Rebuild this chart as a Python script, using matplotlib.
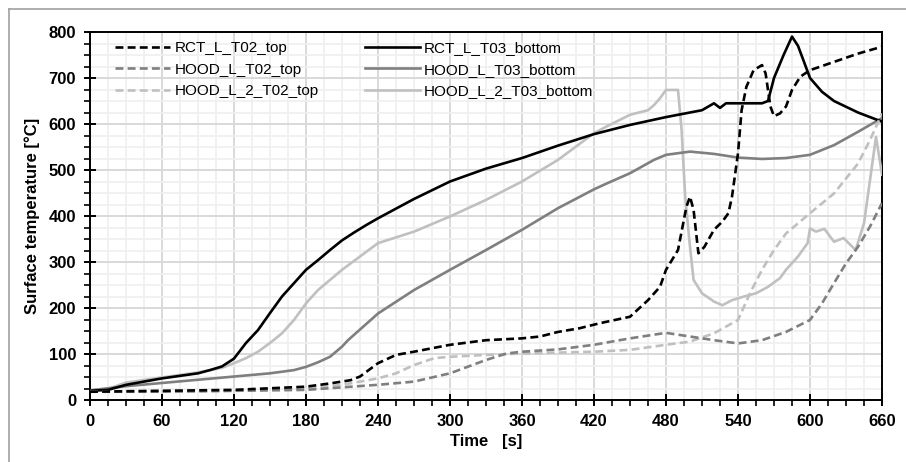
import numpy as np
import matplotlib
matplotlib.use('Agg')
import matplotlib.pyplot as plt
from matplotlib.ticker import MultipleLocator
from matplotlib.lines import Line2D

plt.rcParams['font.family'] = ['Liberation Sans', 'DejaVu Sans']

# RCT_L_T02_top (black dashed)
t_rct_top = [0, 60, 120, 180, 200, 217, 225, 240, 255, 270, 300, 330, 360, 375, 390, 408, 425, 450,
             465, 475, 480, 490, 497, 500, 503, 507, 512, 520, 527, 532, 535, 540, 543, 547, 553,
             560, 563, 567, 570, 575, 580, 585, 592, 600, 620, 640, 660]
v_rct_top = [18, 20, 22, 29, 36, 43, 51, 80, 98, 105, 120, 130, 134, 138, 148, 156, 167, 181,
             217, 246, 283, 326, 420, 442, 413, 319, 333, 370, 388, 406, 442, 536, 630, 681, 717,
             728, 710, 638, 617, 623, 638, 674, 703, 717, 735, 753, 768]

# RCT_L_T03_bottom (black solid)
t_rct_bot = [0, 15, 30, 60, 90, 100, 110, 120, 130, 140, 150, 160, 170, 180, 190, 200, 210, 220,
             230, 240, 270, 300, 330, 360, 390, 420, 450, 480, 510, 520, 525, 530, 535, 545, 560,
             565, 570, 578, 585, 590, 600, 610, 620, 640, 660]
v_rct_bot = [20, 22, 33, 47, 58, 65, 73, 90, 124, 152, 189, 225, 254, 283, 304, 326, 347, 364,
             380, 395, 437, 475, 503, 526, 553, 578, 598, 615, 630, 645, 635, 645, 645, 645, 645,
             650, 700, 750, 790, 770, 700, 670, 650, 625, 605]

# HOOD_L_T02_top (mid grey dashed)
t_hood_top = [0, 60, 120, 180, 240, 270, 300, 330, 347, 360, 390, 420, 450, 480, 500, 520, 540,
              560, 580, 600, 610, 620, 630, 640, 650, 660]
v_hood_top = [18, 18, 20, 22, 33, 40, 58, 87, 101, 105, 110, 120, 134, 146, 138, 130, 123,
              130, 148, 174, 210, 254, 297, 333, 377, 428]

# HOOD_L_T03_bottom (mid grey solid)
t_hood_bot = [0, 30, 60, 90, 120, 150, 170, 180, 190, 200, 210, 215, 240, 270, 300, 330, 360,
              390, 420, 430, 450, 470, 480, 500, 520, 540, 560, 580, 600, 620, 640, 660]
v_hood_bot = [21, 30, 37, 44, 51, 58, 65, 72, 82, 94, 116, 130, 188, 239, 283, 326, 370,
              417, 458, 470, 493, 522, 533, 540, 535, 527, 524, 526, 533, 554, 583, 613]

# HOOD_L_2_T02_top (light grey dashed)
t_hood2_top = [0, 120, 180, 210, 240, 255, 270, 287, 300, 330, 360, 390, 420, 450, 480, 500, 520,
               540, 550, 560, 570, 580, 600, 620, 640, 650, 660]
v_hood2_top = [18, 20, 25, 33, 47, 58, 76, 91, 94, 98, 101, 103, 105, 109, 120, 127, 145,
               174, 232, 283, 326, 362, 406, 449, 514, 565, 623]

# HOOD_L_2_T03_bottom (light grey solid)
t_hood2_bot = [0, 15, 30, 60, 90, 110, 120, 130, 140, 150, 160, 170, 180, 190, 200, 210, 240, 270,
               300, 330, 360, 390, 420, 430, 450, 465, 470, 475, 480, 490, 493, 496, 500, 503, 510,
               520, 527, 535, 545, 555, 565, 575, 580, 590, 598, 600, 605, 612, 620, 628, 638, 645,
               650, 655, 660]
v_hood2_bot = [20, 24, 38, 49, 60, 70, 80, 91, 105, 124, 145, 174, 210, 239, 261, 283, 341, 366,
               399, 435, 475, 522, 580, 594, 620, 630, 641, 656, 674, 674, 587, 442, 333, 261, 232,
               214, 206, 217, 225, 232, 246, 265, 283, 312, 341, 373, 366, 372, 344, 352, 326, 384,
               478, 572, 490]

series = [
    (t_rct_top, v_rct_top, 'RCT_L_T02_top', 'black', '--'),
    (t_hood_top, v_hood_top, 'HOOD_L_T02_top', '#7f7f7f', '--'),
    (t_hood2_top, v_hood2_top, 'HOOD_L_2_T02_top', '#c0c0c0', '--'),
    (t_rct_bot, v_rct_bot, 'RCT_L_T03_bottom', 'black', '-'),
    (t_hood_bot, v_hood_bot, 'HOOD_L_T03_bottom', '#7f7f7f', '-'),
    (t_hood2_bot, v_hood2_bot, 'HOOD_L_2_T03_bottom', '#c0c0c0', '-'),
]

fig = plt.figure(figsize=(9.06, 4.62), dpi=100)
ax = fig.add_axes([90/906, 62/462, 792/906, 368/462])

# draw order: light first so black stays on top
for i in [5, 2, 4, 1, 3, 0]:
    t, v, lab, col, ls = series[i]
    if ls == '--':
        ax.plot(t, v, color=col, ls=ls, lw=1.9, dashes=(3.0, 1.6), label=lab, zorder=3 + (5 - i) * 0.1)
    else:
        ax.plot(t, v, color=col, ls=ls, lw=1.9, label=lab, zorder=3 + (5 - i) * 0.1)

ax.set_xlim(0, 660)
ax.set_ylim(0, 800)
ax.xaxis.set_major_locator(MultipleLocator(60))
ax.xaxis.set_minor_locator(MultipleLocator(15))
ax.yaxis.set_major_locator(MultipleLocator(100))
ax.yaxis.set_minor_locator(MultipleLocator(25))
ax.grid(which='major', color='#d9d9d9', lw=1.4, zorder=0)
ax.grid(which='minor', color='#efefef', lw=1.2, zorder=0)
ax.set_axisbelow(True)

ax.tick_params(which='major', direction='inout', length=8, width=1.4, labelsize=12, pad=6)
ax.tick_params(which='minor', direction='out', length=4, width=1.2)
for lbl in ax.get_xticklabels() + ax.get_yticklabels():
    lbl.set_fontweight('bold')
for s in ax.spines.values():
    s.set_linewidth(1.4)

ax.set_xlabel('Time   [s]', fontsize=12, fontweight='bold', labelpad=4)
ax.set_ylabel('Surface temperature [°C]', fontsize=12, fontweight='bold', labelpad=6)

handles, labels = ax.get_legend_handles_labels()
order = [labels.index(s[2]) for s in series]
ax.legend([handles[k] for k in order], [labels[k] for k in order], ncol=2, loc='upper left',
          frameon=False, fontsize=11, handlelength=3.6, handletextpad=0.3, columnspacing=3.0,
          labelspacing=0.5, borderaxespad=0.2, bbox_to_anchor=(0.02, 1.0))

# outer frame
fig.add_artist(Line2D([9/906, 9/906], [0, 1 - 9/462], color='#a0a0a0', lw=1.2))
fig.add_artist(Line2D([9/906, 1], [1 - 9/462, 1 - 9/462], color='#a0a0a0', lw=1.2))

fig.savefig('out.png', dpi=100)
